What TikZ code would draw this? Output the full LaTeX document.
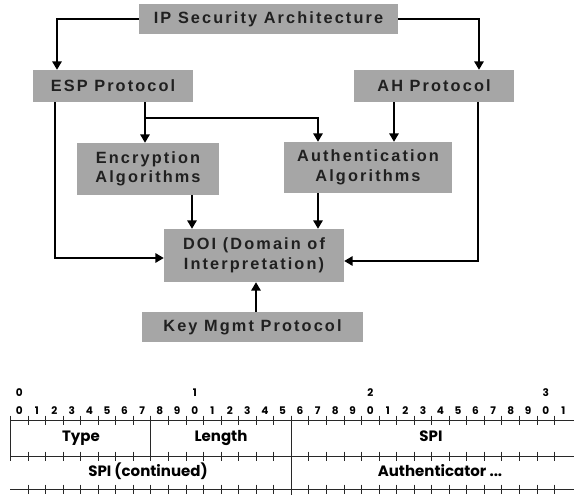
\documentclass[tikz,border=0pt]{standalone}
\usepackage{fontspec}
\usetikzlibrary{arrows.meta}
\newfontfamily\topfont[LetterSpace=13]{Liberation Sans}
\newfontfamily\pktfont{Poppins}
\definecolor{boxgray}{RGB}{166,166,166}
\definecolor{boxtext}{RGB}{32,32,32}
\definecolor{rulecol}{RGB}{40,40,40}
\tikzset{
  box/.style={fill=boxgray, text=boxtext, inner sep=0pt, align=center,
    font=\topfont\bfseries\fontsize{16.3}{19.5}\selectfont},
  link/.style={line width=1.5pt, -{Triangle[width=9.5pt,length=8.5pt]}},
  pkt/.style={line width=0.9pt, draw=rulecol},
  field/.style={font=\pktfont\bfseries\fontsize{15}{18}\selectfont, inner sep=0pt, anchor=base},
  bitno/.style={font=\pktfont\bfseries\fontsize{10.5}{12}\selectfont, inner sep=0pt, anchor=base},
}
\begin{document}
\begin{tikzpicture}[x=1pt, y=-1pt]
\useasboundingbox (0,0) rectangle (574,495);

% ---- IPsec document roadmap ----
\node[box, minimum width=259pt, minimum height=30pt] (ip)   at (268.5,19)  {IP Security Architecture};
\node[box, minimum width=160pt, minimum height=32pt] (esp)  at (113,86)    {ESP Protocol};
\node[box, minimum width=160pt, minimum height=32pt] (ah)   at (434,86)    {AH Protocol};
\node[box, minimum width=142pt, minimum height=52pt] (enc)  at (148,169)   {Encryption\\Algorithms};
\node[box, minimum width=168pt, minimum height=51pt] (auth) at (368,167.5) {Authentication\\Algorithms};
\node[box, minimum width=180pt, minimum height=53pt] (doi)  at (254,255.5) {DOI (Domain of\\Interpretation)};
\node[box, minimum width=221pt, minimum height=30pt] (key)  at (252.5,327) {Key Mgmt Protocol};

\coordinate (br) at (145,118);

\draw[link] (ip.west) -| ([xshift=-56pt]esp.north);
\draw[link] (ip.east) -| ([xshift=45pt]ah.north);
\draw[link] ([xshift=-58pt]esp.south) |- ([yshift=-2.5pt]doi.west);
\draw[link] ([xshift=32pt]esp.south) -- ([xshift=32pt]esp.south |- enc.north);
\draw[link] (br) -| ([xshift=-50pt]auth.north);
\draw[link] ([xshift=-40pt]ah.south) -- ([xshift=-40pt]ah.south |- auth.north);
\draw[link] ([xshift=44pt]ah.south) |- ([yshift=-5.5pt]doi.east);
\draw[link] ([xshift=44pt]enc.south) -- ([xshift=44pt]enc.south |- doi.north);
\draw[link] ([xshift=-50pt]auth.south) -- ([xshift=-50pt]auth.south |- doi.north);
\draw[link] ([xshift=3.5pt]key.north) -- ([xshift=3.5pt]key.north |- doi.south);

% ---- AH header layout ----
\def\bl{10.5}
\def\bw{17.55}
\draw[pkt] (\bl,420) -- (574,420);
\draw[pkt] (10,456) -- (574,456);
\draw[pkt] (10,489) -- (574,489);
\draw[pkt] (\bl,415.5) -- (\bl,460.5);
\draw[pkt] (\bl+8*\bw,415.5) -- (\bl+8*\bw,458);
\draw[pkt] (\bl+16*\bw,415.5) -- (\bl+16*\bw,495);
\foreach \k in {1,...,31}{
  \draw[pkt] (\bl+\k*\bw,415.5) -- (\bl+\k*\bw,424.5);
  \draw[pkt] (\bl+\k*\bw,451.5) -- (\bl+\k*\bw,460.5);
  \draw[pkt] (\bl+\k*\bw,484.5) -- (\bl+\k*\bw,493.5);
}
\foreach \k in {0,...,31}{
  \pgfmathtruncatemacro\d{mod(\k,10)}
  \node[bitno] (b\k) at (\bl+\k*\bw+0.5*\bw,414) {\d};
}
\foreach \k/\t in {0/0,10/1,20/2,30/3}
  \node[bitno] (t\k) at (\bl+\k*\bw+0.5*\bw,396.5) {\t};

\node[field] (type)   at (81,441.7)  {Type};
\node[field] (length) at (221,441.7) {Length};
\node[field] (spi)    at (431,441.7) {SPI};
\node[field] (spic)   at (148,476)   {SPI (continued)};
\node[field] (authd)  at (440,476)   {Authenticator ...};
\end{tikzpicture}
\end{document}
